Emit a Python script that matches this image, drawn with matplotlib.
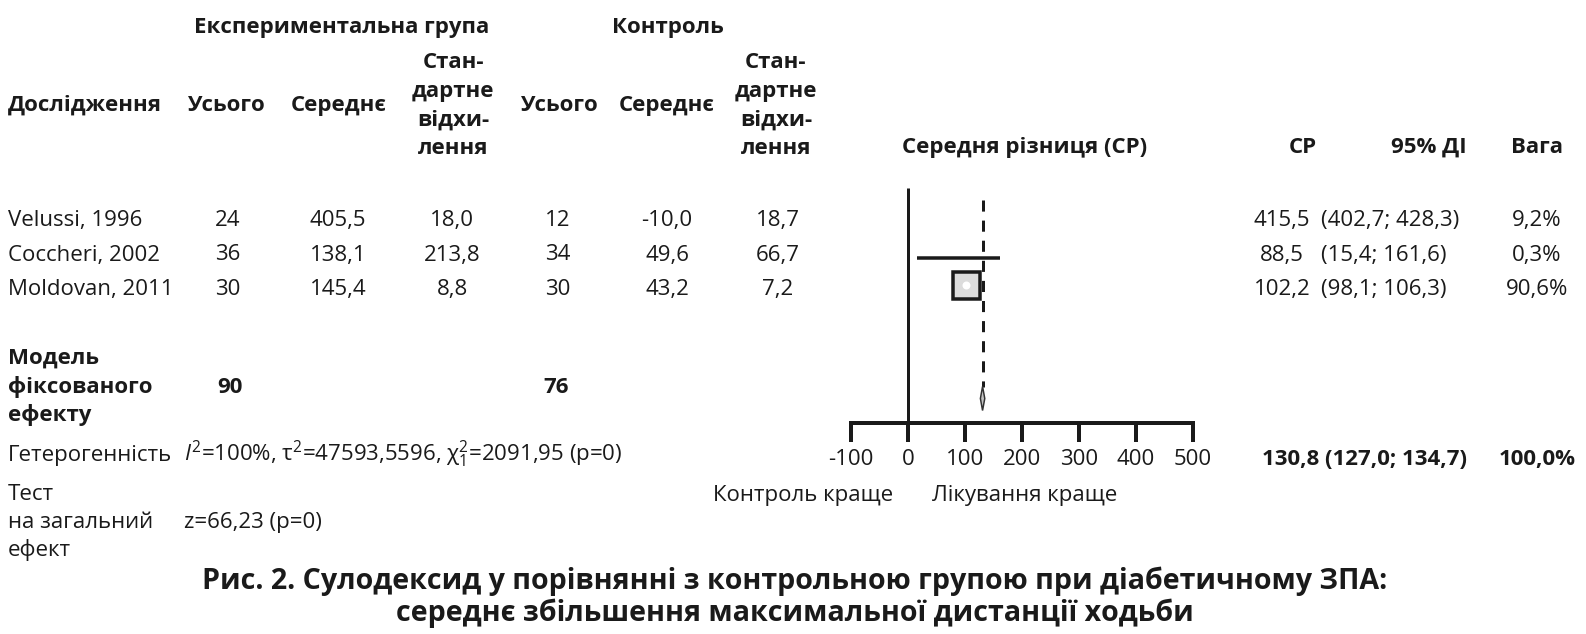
import matplotlib
matplotlib.use("Agg")
import matplotlib.pyplot as plt
from matplotlib.patches import Rectangle, Polygon

W, H = 1586, 634
DPI = 100

# ---------------- data ----------------
studies = ["Velussi, 1996", "Coccheri, 2002", "Moldovan, 2011"]
exp_total = [24, 36, 30]
exp_mean = [405.5, 138.1, 145.4]
exp_sd = [18.0, 213.8, 8.8]
ctl_total = [12, 34, 30]
ctl_mean = [-10.0, 49.6, 43.2]
ctl_sd = [18.7, 66.7, 7.2]
md = [415.5, 88.5, 102.2]
ci_low = [402.7, 15.4, 98.1]
ci_high = [428.3, 161.6, 106.3]
weight = [9.2, 0.3, 90.6]
shown = [False, True, True]   # Velussi is not drawn in the reference plot

pooled_exp_total = 90
pooled_ctl_total = 76
pooled_md = 130.8
pooled_low = 127.0
pooled_high = 134.7
pooled_weight = 100.0

xticks = [-100, 0, 100, 200, 300, 400, 500]

# ---------------- style ----------------
TXT = "#1a1a1a"
LINE = "#1a1a1a"
plt.rcParams["font.family"] = ["Open Sans", "DejaVu Sans"]
plt.rcParams["mathtext.fontset"] = "custom"
plt.rcParams["mathtext.rm"] = "Open Sans"
plt.rcParams["mathtext.it"] = "Open Sans:italic"
plt.rcParams["mathtext.bf"] = "Open Sans:bold"
FS = 16
PX = 72.0 / DPI  # points per pixel


def fmt(v):
    return f"{v:.1f}".replace(".", ",")


fig = plt.figure(figsize=(W / DPI, H / DPI), dpi=DPI)
fig.patch.set_facecolor("white")

CAP = 8  # half cap height in px (baseline offset from visual centre)


def T(x, y, s, ha="center", bold=False, size=FS, **kw):
    fig.text(x / W, 1 - (y + CAP * size / FS) / H, s, ha=ha, va="baseline",
             fontsize=size, color=TXT, fontweight="bold" if bold else "normal", **kw)


def TL(x, ys, lines, ha="center", bold=False):
    for y, s in zip(ys, lines):
        T(x, y, s, ha=ha, bold=bold)


# ---------------- headers ----------------
T(342, 25, "Експериментальна група", bold=True)
T(668, 25, "Контроль", bold=True)
T(8, 103, "Дослідження", ha="left", bold=True)
T(227, 103, "Усього", bold=True)
T(339, 103, "Середнє", bold=True)
sd_lines = ["Стан-", "дартне", "відхи-", "лення"]
sd_ys = [60, 89, 117.5, 146]
TL(453, sd_ys, sd_lines, bold=True)
T(560, 103, "Усього", bold=True)
T(667, 103, "Середнє", bold=True)
TL(776, sd_ys, sd_lines, bold=True)
T(1025, 145, "Середня різниця (СР)", bold=True)
T(1303, 145, "СР", bold=True)
T(1429, 145, "95% ДІ", bold=True)
T(1537, 145, "Вага", bold=True)

# ---------------- study rows ----------------
row_y = [218, 252.5, 287]
plot_y = [219, 257.5, 285]
for i, name in enumerate(studies):
    y = row_y[i]
    T(8, y, name, ha="left")
    T(228, y, str(exp_total[i]))
    T(338, y, fmt(exp_mean[i]))
    T(452, y, fmt(exp_sd[i]))
    T(558, y, str(ctl_total[i]))
    T(667, y, fmt(ctl_mean[i]))
    T(778, y, fmt(ctl_sd[i]))
    T(1282, y, fmt(md[i]))
    T(1321, y, f"({fmt(ci_low[i])}; {fmt(ci_high[i])})", ha="left")
    T(1537, y, fmt(weight[i]) + "%")

# ---------------- summary ----------------
TL(8, [356, 385, 413], ["Модель", "фіксованого", "ефекту"], ha="left", bold=True)
T(230, 385, str(pooled_exp_total), bold=True)
T(556, 385, str(pooled_ctl_total), bold=True)
T(1364, 457, f"{fmt(pooled_md)} ({fmt(pooled_low)}; {fmt(pooled_high)})", bold=True)
T(1537, 457, fmt(pooled_weight) + "%", bold=True)

T(8, 453, "Гетерогенність", ha="left")
T(184, 453, r"$\mathit{I}^{2}$=100%, τ$^{2}$=47593,5596, χ$^{2}_{1}$=2091,95 (p=0)", ha="left")
TL(8, [492, 520, 548], ["Тест", "на загальний", "ефект"], ha="left")
T(184, 520, "z=66,23 (p=0)", ha="left")

T(803, 493, "Контроль краще")
T(1025, 493, "Лікування краще")

T(795, 579, "Рис. 2. Сулодексид у порівнянні з контрольною групою при діабетичному ЗПА:", bold=True, size=20.6)
T(795, 611, "середнє збільшення максимальної дистанції ходьби", bold=True, size=20.6)

# ---------------- forest plot ----------------
x0px, x1px = 851, 1193
ax = fig.add_axes([x0px / W, 0, (x1px - x0px) / W, 1])
ax.set_xlim(xticks[0], xticks[-1])
ax.set_ylim(H, 0)
ax.patch.set_alpha(0)
for s in ["top", "left", "right"]:
    ax.spines[s].set_visible(False)
axis_y = 422.7
ax.spines["bottom"].set_position(("data", axis_y))
ax.spines["bottom"].set_bounds(xticks[0], xticks[-1])
ax.spines["bottom"].set_linewidth(4 * PX)
ax.spines["bottom"].set_color(LINE)
ax.yaxis.set_visible(False)
ax.set_xticks(xticks)
ax.set_xticklabels([str(t) for t in xticks])
ax.tick_params(axis="x", direction="out", length=19 * PX, width=4 * PX,
               color=LINE, labelsize=FS, labelcolor=TXT, pad=5)

ppu = (x1px - x0px) / (xticks[-1] - xticks[0])  # pixels per data unit

# line of no effect
ax.plot([0, 0], [188, axis_y], color=LINE, lw=3 * PX, solid_capstyle="butt", zorder=2)
# pooled estimate dashed line
ax.plot([pooled_md, pooled_md], [200, 387], color=LINE, lw=3 * PX,
        dashes=(3.7, 3.0), zorder=2)

max_w = max(weight)
for i in range(len(studies)):
    if not shown[i]:
        continue
    y = plot_y[i]
    ax.plot([ci_low[i], ci_high[i]], [y, y], color=LINE, lw=3.5 * PX,
            solid_capstyle="butt", zorder=3)
    side = 27 * (weight[i] / max_w) ** 0.5
    if side > 6:
        ax.add_patch(Rectangle((md[i] - side / 2 / ppu, y - side / 2), side / ppu, side,
                               facecolor="#dcdcdc", edgecolor=LINE, lw=3.5 * PX, zorder=4))
        ax.plot([md[i]], [y], "o", color="white", ms=8 * PX, mew=0, zorder=5)

# pooled diamond
dy = 398.5
ax.add_patch(Polygon([(pooled_low, dy), (pooled_md, dy - 12), (pooled_high, dy),
                      (pooled_md, dy + 12)], closed=True, facecolor="#c4c4c4",
                     edgecolor="#333333", lw=1.5 * PX, zorder=4))

fig.savefig("out.png", dpi=DPI, facecolor="white")
